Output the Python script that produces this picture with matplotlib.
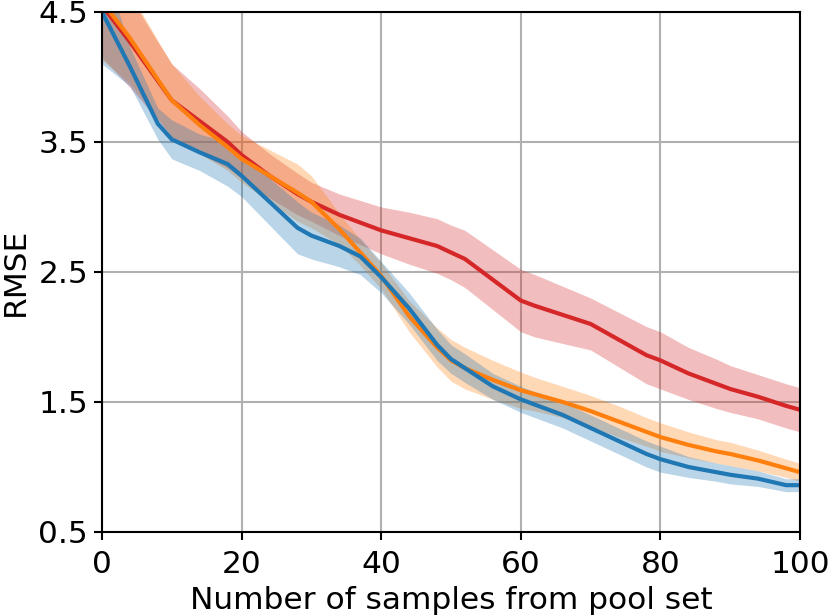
import matplotlib
matplotlib.use('Agg')
import numpy as np
import matplotlib.pyplot as plt

# сетка по x (число образцов из пула)
x = [0, 4, 8, 10, 14, 18, 20, 24, 28, 30, 34, 37, 40, 44, 48, 50, 52, 56, 60, 62,
     66, 70, 74, 78, 80, 84, 88, 90, 94, 98, 100]

blue_mean = [4.50, 4.08, 3.64, 3.52, 3.42, 3.33, 3.24, 3.04, 2.84, 2.78, 2.70, 2.62, 2.46,
             2.22, 1.94, 1.83, 1.76, 1.62, 1.52, 1.48, 1.40, 1.30, 1.20, 1.10, 1.06, 1.00,
             0.96, 0.94, 0.91, 0.86, 0.86]
blue_std = [0.40, 0.15, 0.12, 0.15, 0.14, 0.17, 0.16, 0.18, 0.20, 0.18, 0.16, 0.14, 0.12,
            0.12, 0.12, 0.11, 0.11, 0.10, 0.10, 0.10, 0.10, 0.10, 0.10, 0.10, 0.10, 0.08,
            0.07, 0.07, 0.06, 0.05, 0.05]

orange_mean = [4.58, 4.30, 3.98, 3.82, 3.63, 3.46, 3.37, 3.24, 3.11, 3.04, 2.83, 2.65, 2.47,
               2.16, 1.92, 1.82, 1.76, 1.67, 1.59, 1.56, 1.50, 1.43, 1.35, 1.27, 1.23, 1.17,
               1.12, 1.10, 1.05, 0.99, 0.96]
orange_std = [0.45, 0.35, 0.30, 0.28, 0.22, 0.18, 0.18, 0.20, 0.22, 0.20, 0.12, 0.10, 0.10,
              0.12, 0.15, 0.16, 0.16, 0.15, 0.14, 0.13, 0.12, 0.12, 0.12, 0.11, 0.11, 0.10,
              0.09, 0.09, 0.08, 0.07, 0.07]

red_mean = [4.55, 4.27, 3.97, 3.82, 3.66, 3.50, 3.40, 3.24, 3.10, 3.04, 2.94, 2.88, 2.82,
            2.76, 2.70, 2.65, 2.60, 2.44, 2.28, 2.24, 2.17, 2.10, 1.98, 1.86, 1.82, 1.72,
            1.64, 1.60, 1.54, 1.47, 1.44]
red_std = [0.40, 0.35, 0.30, 0.28, 0.25, 0.20, 0.18, 0.17, 0.16, 0.15, 0.16, 0.17, 0.18,
           0.20, 0.21, 0.21, 0.22, 0.23, 0.24, 0.24, 0.22, 0.20, 0.21, 0.22, 0.22, 0.20,
           0.19, 0.18, 0.17, 0.17, 0.17]

series = [
    (red_mean, red_std, 'tab:red'),
    (orange_mean, orange_std, 'tab:orange'),
    (blue_mean, blue_std, 'tab:blue'),
]

fig = plt.figure(figsize=(8.3, 6.15), dpi=100)
ax = fig.add_axes([0.1229, 0.135, 0.841, 0.8455])

xs = np.array(x)
for mean, std, col in series:
    m = np.array(mean)
    s = np.array(std)
    ax.fill_between(xs, m - s, m + s, color=col, alpha=0.3, linewidth=0)

for mean, std, col in series:
    ax.plot(xs, mean, color=col, linewidth=3)

ax.set_xlim(0, 100)
ax.set_ylim(0.5, 4.5)
ax.set_xticks([0, 20, 40, 60, 80, 100])
ax.set_yticks([0.5, 1.5, 2.5, 3.5, 4.5])
ax.set_yticklabels(['0.5', '1.5', '2.5', '3.5', '4.5'])
ax.tick_params(labelsize=22.5, width=1.5, length=6, pad=4)
ax.tick_params(axis='x', pad=7)
for sp in ax.spines.values():
    sp.set_linewidth(1.5)
ax.grid(True, color='#b0b0b0', linewidth=1.5)
ax.set_axisbelow(True)
ax.set_xlabel("Number of samples from pool set", fontsize=22.5, labelpad=5)
ax.set_ylabel("RMSE", fontsize=22.5, labelpad=6)

fig.savefig("out.png", dpi=100)
